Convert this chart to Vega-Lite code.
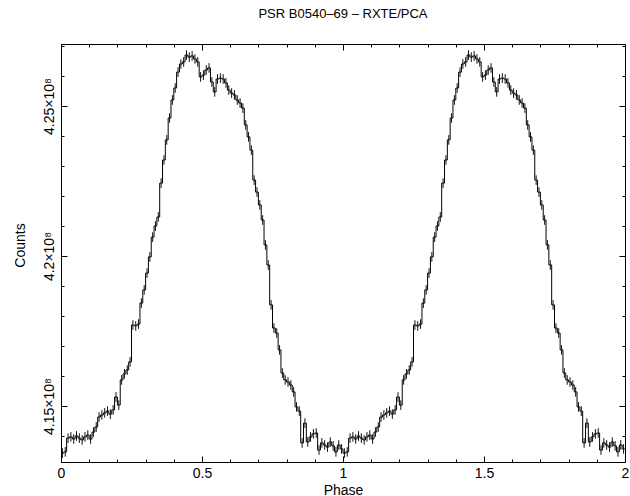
{
  "$schema": "https://vega.github.io/schema/vega-lite/v6.json",
  "width": 564,
  "height": 418,
  "autosize": {"type": "none"},
  "padding": {"left": 61, "top": 44, "right": 5, "bottom": 34},
  "background": "white",
  "title": {"text": "PSR B0540–69 – RXTE/PCA", "font": "Liberation Sans", "fontSize": 13, "fontWeight": "normal", "color": "black", "frame": "group", "anchor": "middle", "offset": 23},
  "config": {
    "view": {"stroke": "black", "strokeWidth": 1},
    "axis": {"grid": false, "domain": false, "labelFont": "Liberation Sans", "titleFont": "Liberation Sans", "labelColor": "black", "titleColor": "black", "tickColor": "black", "labelFontSize": 14, "titleFontSize": 14, "titleFontWeight": "normal", "tickWidth": 1}
  },
  "data": {"values": [
    {"phase":0,"counts":413430000,"err":0},
    {"phase":0.005,"counts":413430000,"err":160000},
    {"phase":0.015,"counts":413470000,"err":160000},
    {"phase":0.025,"counts":413930000,"err":160000},
    {"phase":0.035,"counts":413970000,"err":160000},
    {"phase":0.045,"counts":413900000,"err":160000},
    {"phase":0.055,"counts":414000000,"err":160000},
    {"phase":0.065,"counts":413930000,"err":160000},
    {"phase":0.075,"counts":413870000,"err":160000},
    {"phase":0.085,"counts":413970000,"err":160000},
    {"phase":0.095,"counts":414030000,"err":160000},
    {"phase":0.105,"counts":413900000,"err":160000},
    {"phase":0.115,"counts":414130000,"err":160000},
    {"phase":0.125,"counts":414300000,"err":160000},
    {"phase":0.135,"counts":414630000,"err":160000},
    {"phase":0.145,"counts":414700000,"err":160000},
    {"phase":0.155,"counts":414770000,"err":160000},
    {"phase":0.165,"counts":414830000,"err":160000},
    {"phase":0.175,"counts":414730000,"err":160000},
    {"phase":0.185,"counts":414870000,"err":160000},
    {"phase":0.195,"counts":415300000,"err":160000},
    {"phase":0.205,"counts":415030000,"err":160000},
    {"phase":0.215,"counts":415870000,"err":160000},
    {"phase":0.225,"counts":416070000,"err":160000},
    {"phase":0.235,"counts":416200000,"err":160000},
    {"phase":0.245,"counts":416470000,"err":160000},
    {"phase":0.255,"counts":417700000,"err":160000},
    {"phase":0.265,"counts":417670000,"err":160000},
    {"phase":0.275,"counts":417730000,"err":160000},
    {"phase":0.285,"counts":418430000,"err":160000},
    {"phase":0.295,"counts":418870000,"err":160000},
    {"phase":0.305,"counts":419430000,"err":160000},
    {"phase":0.315,"counts":419970000,"err":160000},
    {"phase":0.325,"counts":420630000,"err":160000},
    {"phase":0.335,"counts":421000000,"err":160000},
    {"phase":0.345,"counts":421300000,"err":160000},
    {"phase":0.355,"counts":422430000,"err":160000},
    {"phase":0.365,"counts":423200000,"err":160000},
    {"phase":0.375,"counts":423870000,"err":160000},
    {"phase":0.385,"counts":424600000,"err":160000},
    {"phase":0.395,"counts":425200000,"err":160000},
    {"phase":0.405,"counts":425600000,"err":160000},
    {"phase":0.415,"counts":426130000,"err":160000},
    {"phase":0.425,"counts":426400000,"err":160000},
    {"phase":0.435,"counts":426470000,"err":160000},
    {"phase":0.445,"counts":426700000,"err":160000},
    {"phase":0.455,"counts":426630000,"err":160000},
    {"phase":0.465,"counts":426670000,"err":160000},
    {"phase":0.475,"counts":426570000,"err":160000},
    {"phase":0.485,"counts":426470000,"err":160000},
    {"phase":0.495,"counts":425970000,"err":160000},
    {"phase":0.505,"counts":426030000,"err":160000},
    {"phase":0.515,"counts":426200000,"err":160000},
    {"phase":0.525,"counts":426270000,"err":160000},
    {"phase":0.535,"counts":425800000,"err":160000},
    {"phase":0.545,"counts":425470000,"err":160000},
    {"phase":0.555,"counts":425900000,"err":160000},
    {"phase":0.565,"counts":425930000,"err":160000},
    {"phase":0.575,"counts":425900000,"err":160000},
    {"phase":0.585,"counts":425770000,"err":160000},
    {"phase":0.595,"counts":425530000,"err":160000},
    {"phase":0.605,"counts":425430000,"err":160000},
    {"phase":0.615,"counts":425370000,"err":160000},
    {"phase":0.625,"counts":425200000,"err":160000},
    {"phase":0.635,"counts":425100000,"err":160000},
    {"phase":0.645,"counts":424930000,"err":160000},
    {"phase":0.655,"counts":424370000,"err":160000},
    {"phase":0.665,"counts":423970000,"err":160000},
    {"phase":0.675,"counts":423530000,"err":160000},
    {"phase":0.685,"counts":422530000,"err":160000},
    {"phase":0.695,"counts":422130000,"err":160000},
    {"phase":0.705,"counts":421700000,"err":160000},
    {"phase":0.715,"counts":421200000,"err":160000},
    {"phase":0.725,"counts":420370000,"err":160000},
    {"phase":0.735,"counts":419700000,"err":160000},
    {"phase":0.745,"counts":418370000,"err":160000},
    {"phase":0.755,"counts":417600000,"err":160000},
    {"phase":0.765,"counts":417430000,"err":160000},
    {"phase":0.775,"counts":416870000,"err":160000},
    {"phase":0.785,"counts":416100000,"err":160000},
    {"phase":0.795,"counts":415870000,"err":160000},
    {"phase":0.805,"counts":415800000,"err":160000},
    {"phase":0.815,"counts":415700000,"err":160000},
    {"phase":0.825,"counts":415470000,"err":160000},
    {"phase":0.835,"counts":414970000,"err":160000},
    {"phase":0.845,"counts":414830000,"err":160000},
    {"phase":0.855,"counts":413770000,"err":160000},
    {"phase":0.865,"counts":414430000,"err":160000},
    {"phase":0.875,"counts":413800000,"err":160000},
    {"phase":0.885,"counts":413970000,"err":160000},
    {"phase":0.895,"counts":414070000,"err":160000},
    {"phase":0.905,"counts":414100000,"err":160000},
    {"phase":0.915,"counts":413530000,"err":160000},
    {"phase":0.925,"counts":413770000,"err":160000},
    {"phase":0.935,"counts":413700000,"err":160000},
    {"phase":0.945,"counts":413630000,"err":160000},
    {"phase":0.955,"counts":413800000,"err":160000},
    {"phase":0.965,"counts":413670000,"err":160000},
    {"phase":0.975,"counts":413470000,"err":160000},
    {"phase":0.985,"counts":413700000,"err":160000},
    {"phase":0.995,"counts":413570000,"err":160000},
    {"phase":1.005,"counts":413430000,"err":160000},
    {"phase":1.015,"counts":413470000,"err":160000},
    {"phase":1.025,"counts":413930000,"err":160000},
    {"phase":1.035,"counts":413970000,"err":160000},
    {"phase":1.045,"counts":413900000,"err":160000},
    {"phase":1.055,"counts":414000000,"err":160000},
    {"phase":1.065,"counts":413930000,"err":160000},
    {"phase":1.075,"counts":413870000,"err":160000},
    {"phase":1.085,"counts":413970000,"err":160000},
    {"phase":1.095,"counts":414030000,"err":160000},
    {"phase":1.105,"counts":413900000,"err":160000},
    {"phase":1.115,"counts":414130000,"err":160000},
    {"phase":1.125,"counts":414300000,"err":160000},
    {"phase":1.135,"counts":414630000,"err":160000},
    {"phase":1.145,"counts":414700000,"err":160000},
    {"phase":1.155,"counts":414770000,"err":160000},
    {"phase":1.165,"counts":414830000,"err":160000},
    {"phase":1.175,"counts":414730000,"err":160000},
    {"phase":1.185,"counts":414870000,"err":160000},
    {"phase":1.195,"counts":415300000,"err":160000},
    {"phase":1.205,"counts":415030000,"err":160000},
    {"phase":1.215,"counts":415870000,"err":160000},
    {"phase":1.225,"counts":416070000,"err":160000},
    {"phase":1.235,"counts":416200000,"err":160000},
    {"phase":1.245,"counts":416470000,"err":160000},
    {"phase":1.255,"counts":417700000,"err":160000},
    {"phase":1.265,"counts":417670000,"err":160000},
    {"phase":1.275,"counts":417730000,"err":160000},
    {"phase":1.285,"counts":418430000,"err":160000},
    {"phase":1.295,"counts":418870000,"err":160000},
    {"phase":1.305,"counts":419430000,"err":160000},
    {"phase":1.315,"counts":419970000,"err":160000},
    {"phase":1.325,"counts":420630000,"err":160000},
    {"phase":1.335,"counts":421000000,"err":160000},
    {"phase":1.345,"counts":421300000,"err":160000},
    {"phase":1.355,"counts":422430000,"err":160000},
    {"phase":1.365,"counts":423200000,"err":160000},
    {"phase":1.375,"counts":423870000,"err":160000},
    {"phase":1.385,"counts":424600000,"err":160000},
    {"phase":1.395,"counts":425200000,"err":160000},
    {"phase":1.405,"counts":425600000,"err":160000},
    {"phase":1.415,"counts":426130000,"err":160000},
    {"phase":1.425,"counts":426400000,"err":160000},
    {"phase":1.435,"counts":426470000,"err":160000},
    {"phase":1.445,"counts":426700000,"err":160000},
    {"phase":1.455,"counts":426630000,"err":160000},
    {"phase":1.465,"counts":426670000,"err":160000},
    {"phase":1.475,"counts":426570000,"err":160000},
    {"phase":1.485,"counts":426470000,"err":160000},
    {"phase":1.495,"counts":425970000,"err":160000},
    {"phase":1.505,"counts":426030000,"err":160000},
    {"phase":1.515,"counts":426200000,"err":160000},
    {"phase":1.525,"counts":426270000,"err":160000},
    {"phase":1.535,"counts":425800000,"err":160000},
    {"phase":1.545,"counts":425470000,"err":160000},
    {"phase":1.555,"counts":425900000,"err":160000},
    {"phase":1.565,"counts":425930000,"err":160000},
    {"phase":1.575,"counts":425900000,"err":160000},
    {"phase":1.585,"counts":425770000,"err":160000},
    {"phase":1.595,"counts":425530000,"err":160000},
    {"phase":1.605,"counts":425430000,"err":160000},
    {"phase":1.615,"counts":425370000,"err":160000},
    {"phase":1.625,"counts":425200000,"err":160000},
    {"phase":1.635,"counts":425100000,"err":160000},
    {"phase":1.645,"counts":424930000,"err":160000},
    {"phase":1.655,"counts":424370000,"err":160000},
    {"phase":1.665,"counts":423970000,"err":160000},
    {"phase":1.675,"counts":423530000,"err":160000},
    {"phase":1.685,"counts":422530000,"err":160000},
    {"phase":1.695,"counts":422130000,"err":160000},
    {"phase":1.705,"counts":421700000,"err":160000},
    {"phase":1.715,"counts":421200000,"err":160000},
    {"phase":1.725,"counts":420370000,"err":160000},
    {"phase":1.735,"counts":419700000,"err":160000},
    {"phase":1.745,"counts":418370000,"err":160000},
    {"phase":1.755,"counts":417600000,"err":160000},
    {"phase":1.765,"counts":417430000,"err":160000},
    {"phase":1.775,"counts":416870000,"err":160000},
    {"phase":1.785,"counts":416100000,"err":160000},
    {"phase":1.795,"counts":415870000,"err":160000},
    {"phase":1.805,"counts":415800000,"err":160000},
    {"phase":1.815,"counts":415700000,"err":160000},
    {"phase":1.825,"counts":415470000,"err":160000},
    {"phase":1.835,"counts":414970000,"err":160000},
    {"phase":1.845,"counts":414830000,"err":160000},
    {"phase":1.855,"counts":413770000,"err":160000},
    {"phase":1.865,"counts":414430000,"err":160000},
    {"phase":1.875,"counts":413800000,"err":160000},
    {"phase":1.885,"counts":413970000,"err":160000},
    {"phase":1.895,"counts":414070000,"err":160000},
    {"phase":1.905,"counts":414100000,"err":160000},
    {"phase":1.915,"counts":413530000,"err":160000},
    {"phase":1.925,"counts":413770000,"err":160000},
    {"phase":1.935,"counts":413700000,"err":160000},
    {"phase":1.945,"counts":413630000,"err":160000},
    {"phase":1.955,"counts":413800000,"err":160000},
    {"phase":1.965,"counts":413670000,"err":160000},
    {"phase":1.975,"counts":413470000,"err":160000},
    {"phase":1.985,"counts":413700000,"err":160000},
    {"phase":1.995,"counts":413570000,"err":160000},
    {"phase":2,"counts":413570000,"err":0}
  ]},
  "layer": [
    {
      "mark": {"type": "line", "interpolate": "step", "color": "black", "strokeWidth": 1},
      "encoding": {
        "x": {"field": "phase", "type": "quantitative", "scale": {"domain": [0, 2], "nice": false, "zero": false},
              "axis": {"orient": "bottom", "values": [0, 0.5, 1, 1.5, 2], "labelExpr": "format(datum.value, '~g')", "tickSize": -6, "labelPadding": 10, "labelFlush": false, "labelOverlap": false, "title": "Phase", "titleY": 21, "titleBaseline": "top"}},
        "y": {"field": "counts", "type": "quantitative", "scale": {"domain": [413133000, 427067000], "nice": false, "zero": false},
              "axis": {"orient": "left", "values": [415000000, 420000000, 425000000], "labelExpr": "format(datum.value / 1e8, '.3~g') + '×10⁸'", "labelAngle": -90, "labelAlign": "center", "labelBaseline": "bottom", "tickSize": -6, "labelPadding": 11, "labelOverlap": false, "title": "Counts", "titleX": -34, "titleY": 201}}
      }
    },
    {
      "transform": [{"filter": "datum.err > 0"}],
      "mark": {"type": "errorbar", "rule": {"stroke": "#111111", "strokeWidth": 1}},
      "encoding": {
        "x": {"field": "phase", "type": "quantitative",
              "axis": {"orient": "bottom", "values": [0,0.1,0.2,0.3,0.4,0.6,0.7,0.8,0.9,1.1,1.2,1.3,1.4,1.6,1.7,1.8,1.9], "tickSize": -3, "labels": false, "title": null}},
        "y": {"field": "counts", "type": "quantitative",
              "axis": {"orient": "left", "values": [414000000,416000000,417000000,418000000,419000000,421000000,422000000,423000000,424000000,426000000,427000000], "tickSize": -3, "labels": false, "title": null}},
        "yError": {"field": "err"}
      }
    },
    {
      "mark": {"type": "point", "opacity": 0},
      "encoding": {
        "x": {"field": "phase", "type": "quantitative",
              "axis": {"orient": "top", "values": [0, 0.5, 1, 1.5, 2], "tickSize": -6, "labels": false, "title": null}},
        "y": {"field": "counts", "type": "quantitative",
              "axis": {"orient": "right", "values": [415000000, 420000000, 425000000], "tickSize": -6, "labels": false, "title": null}}
      }
    },
    {
      "mark": {"type": "point", "opacity": 0},
      "encoding": {
        "x": {"field": "phase", "type": "quantitative",
              "axis": {"orient": "top", "values": [0,0.1,0.2,0.3,0.4,0.6,0.7,0.8,0.9,1.1,1.2,1.3,1.4,1.6,1.7,1.8,1.9], "tickSize": -3, "labels": false, "title": null}},
        "y": {"field": "counts", "type": "quantitative",
              "axis": {"orient": "right", "values": [414000000,416000000,417000000,418000000,419000000,421000000,422000000,423000000,424000000,426000000,427000000], "tickSize": -3, "labels": false, "title": null}}
      }
    }
  ],
  "resolve": {"axis": {"x": "independent", "y": "independent"}}
}
